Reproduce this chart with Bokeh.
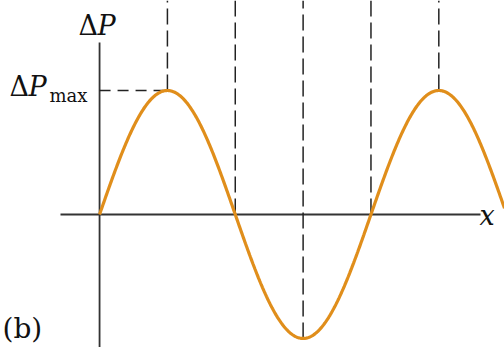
from bokeh.plotting import figure
from bokeh.models import Range1d
from bokeh.core.properties import value
from bokeh.embed import file_html
from bokeh.resources import INLINE
import numpy as np

# Pressure-wave snapshot: ΔP = ΔPmax * sin(2πx/λ), x in wavelengths
amplitude = 1.0            # ΔPmax
wavelength = 1.0           # λ
x_start = 0.0
x_end = 1.492
# Positions of the marked crests, troughs and nodes (in wavelengths)
marked_x = [0.25, 0.5, 0.75, 1.0, 1.25]
peak_x = 0.25

W, H = 504, 347
XR = (-0.365, 1.492)
YR = (-1.073, 1.726)

def px(x):
    return XR[0] + x / W * (XR[1] - XR[0])

def py(y):
    return YR[1] - y / H * (YR[1] - YR[0])

p = figure(width=W, height=H, output_backend="svg", toolbar_location=None,
           x_range=Range1d(*XR), y_range=Range1d(*YR), min_border=0)
p.axis.visible = False
p.grid.visible = False
p.outline_line_color = None
p.background_fill_color = "white"
p.border_fill_color = "white"

axis_col = "#333333"
dash_col = "#222222"
serif = value("DejaVu Serif")

# Axes
p.line([px(60), px(480)], [0, 0], line_color=axis_col, line_width=1.8)
p.line([0, 0], [py(42), YR[0]], line_color=axis_col, line_width=1.8)

# Dashed guides from the curve up to the top edge
def wave(x):
    return amplitude * np.sin(2 * np.pi * np.asarray(x) / wavelength)

for xm in marked_x:
    p.line([xm, xm], [float(wave(xm)), YR[1]], line_color=dash_col,
           line_width=1.5, line_dash="16 6")
p.line([0, peak_x], [amplitude, amplitude], line_color=dash_col,
       line_width=1.5, line_dash="11 7")

# The wave
xs = np.linspace(x_start, x_end, 600)
p.line(xs, wave(xs), line_color="#E08E1B", line_width=3.2)

# Labels
def label(x, y, t, size, style="normal", align="left", baseline="alphabetic"):
    p.text([px(x)], [py(y)], text=[t], text_font=serif,
           text_font_size=f"{size}px", text_font_style=style,
           text_align=align, text_baseline=baseline, text_color="#111111")

label(78, 25, "Δ", 27)
label(97, 25, "P", 27, "italic")
label(9, 86, "Δ", 27)
label(28, 86, "P", 27, "italic")
label(49, 95, "max", 18)
label(479, 215, "x", 27, "italic")
label(2, 328, "(b)", 28)

open("out.html", "w").write(file_html(p, INLINE))
